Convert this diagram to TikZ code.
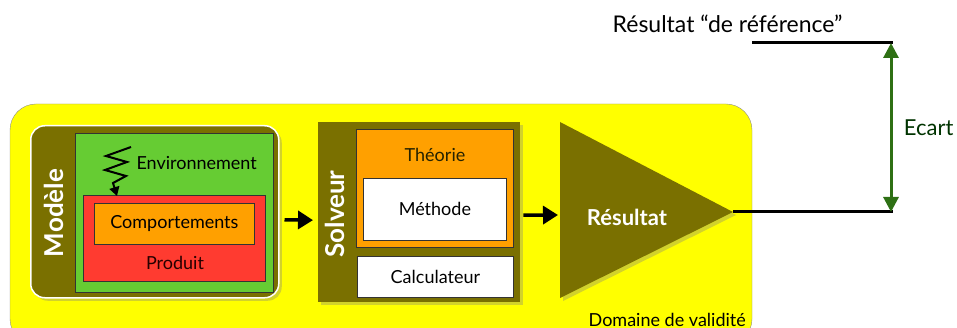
\documentclass[tikz,border=0pt]{standalone}
\usepackage{fontspec}
\setmainfont{Lato}
\usetikzlibrary{shadows,arrows.meta}

\definecolor{jaune}{RGB}{255,255,0}
\definecolor{olive}{RGB}{122,112,0}
\definecolor{vert}{RGB}{102,204,51}
\definecolor{rouge}{RGB}{255,59,48}
\definecolor{orange}{RGB}{255,160,0}
\definecolor{vertfonce}{RGB}{46,112,20}

\begin{document}
\begin{tikzpicture}[x=1pt,y=-1pt,
  boite/.style={draw=black!80, line width=0.8pt, anchor=north west, inner sep=0pt},
  ombre/.style={drop shadow={opacity=0.35, shadow xshift=3pt, shadow yshift=-3pt}},
  titre/.style={text=white, font=\bfseries\fontsize{26}{26}\selectfont, rotate=90},
  txt/.style={font=\fontsize{18}{18}\selectfont},
  fleche/.style={-{Triangle[length=15pt,width=18pt]}, line width=3.5pt}]

\useasboundingbox (0,0) rectangle (957,328);

% domaine de validite
\draw [fill=jaune, draw=black!45, rounded corners=26pt] (10,104) rectangle (752,345);
\node[txt, anchor=base east, inner sep=0pt] (domaine) at (746,326) {Domaine de validité};

% modele
\node[fill=olive, draw=white, line width=1.5pt, rounded corners=14pt, ombre,
  anchor=north west, minimum width=248pt, minimum height=172pt] (modele) at (30,125) {};
\node[titre] (tmodele) at (54,213) {Modèle};
\node[boite, fill=vert, minimum width=198pt, minimum height=159pt] (envbox) at (75,133) {};
\node[boite, fill=rouge, minimum width=182pt, minimum height=86pt] (produit) at (83,195) {};
\node[boite, fill=orange, minimum width=160pt, minimum height=41pt] (comport) at (94,203) {};
\node[txt] (tcomport) at (comport.center) {Comportements};
\node[txt, text=black!85!red] (tproduit) at (175,263) {Produit};
\node[txt, anchor=west] (tenv) at (133,163) {Environnement};

% perturbation de l'environnement
\coordinate (z0) at (131,147);
\draw[line width=2pt, line join=miter, -{Triangle[length=9pt,width=10pt]}]
  (z0) -- (106,156) -- (127,162) -- (105,170) -- (126,176) -- (113,183) -- (117,196);

% solveur
\node[fill=olive, ombre, anchor=north west, minimum width=202pt, minimum height=180pt,
  inner sep=0pt] (solveur) at (318,122) {};
\node[titre] (tsolveur) at (335,214) {Solveur};
\node[boite, fill=orange, minimum width=157pt, minimum height=118pt] (theorie) at (356,129) {};
\node[txt, text=black!70!olive] (ttheorie) at (435,155) {Théorie};
\node[boite, fill=white, minimum width=143pt, minimum height=62pt] (methode) at (363,178) {};
\node[txt] (tmethode) at (methode.center) {Méthode};
\node[boite, fill=white, minimum width=156pt, minimum height=41pt] (calcul) at (357,256) {};
\node[txt] (tcalcul) at (calcul.center) {Calculateur};

\draw[fleche, shorten <=5pt, shorten >=5pt] ([yshift=-8pt]modele.east) -- ([yshift=-8pt]solveur.west);

% resultat
\coordinate (tip) at (733,212);
\fill[olive, ombre] (560,122) -- (tip) -- (560,298) -- cycle;
\node[text=white, font=\bfseries\fontsize{22}{22}\selectfont] (tresultat) at (627,217) {Résultat};
\draw[fleche, shorten <=3pt] ([yshift=-3pt]solveur.east) -- (558,215);

% ecart avec la reference
\coordinate (res) at (893,212);
\coordinate (ref0) at (752,43);
\coordinate (ref) at (893,43);
\draw[line width=3pt] (tip) -- (res);
\draw[line width=3pt] (ref0) -- (ref);
\node[font=\fontsize{23}{23}\selectfont, anchor=east] (tref) at (846,24) {Résultat “de référence"};
\draw[vertfonce, line width=3pt, {Triangle[length=15pt,width=15pt]}-{Triangle[length=15pt,width=15pt]}]
  ([xshift=-2pt]res) -- ([xshift=-2pt]ref) node[midway, right=8pt, text=black!80!green, font=\fontsize{22}{22}\selectfont] (tecart) {Ecart};

\end{tikzpicture}
\end{document}
